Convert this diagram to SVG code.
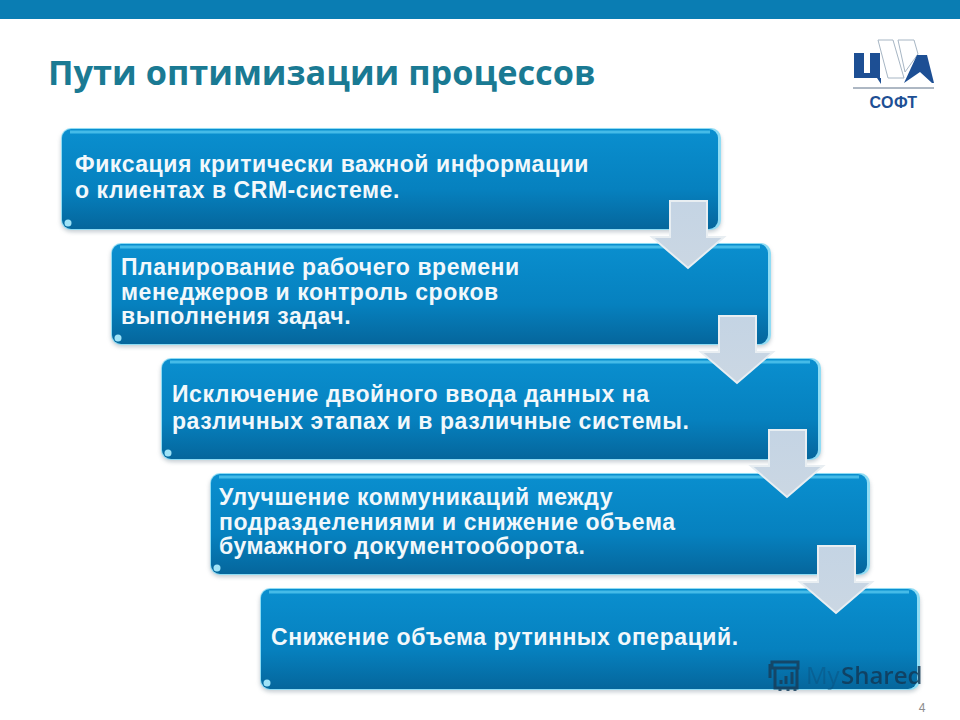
<svg xmlns="http://www.w3.org/2000/svg" width="960" height="720" viewBox="0 0 960 720">
<defs>
<linearGradient id="box" x1="0" y1="0" x2="0" y2="1">
<stop offset="0" stop-color="#0a8fcf"/><stop offset="0.6" stop-color="#0681bf"/><stop offset="1" stop-color="#05669c"/>
</linearGradient>
<linearGradient id="arr" x1="0" y1="0" x2="0" y2="1">
<stop offset="0" stop-color="#c4d4e4"/><stop offset="1" stop-color="#cbd7e3"/>
</linearGradient>
<filter id="sh" x="-5%" y="-10%" width="110%" height="125%"><feGaussianBlur stdDeviation="2"/></filter>
<symbol id="arrow" overflow="visible">
<path class="wing" d="M-36 36H-18V0H19V36H36L0 67Z"/>
</symbol>
<symbol id="card" overflow="visible">
<rect x="-1" y="2" width="660" height="101" rx="10" fill="#8a9aa5" opacity=".5" filter="url(#sh)"/>
<rect x="-1" y="-1" width="660" height="102" rx="10" fill="#8fdcf4"/>
<rect x="0" y="0" width="656" height="100" rx="9" fill="url(#box)"/>
<path d="M8 3H648" stroke="#45bbe8" stroke-width="3" fill="none"/>
<circle cx="6" cy="94" r="3.5" fill="#9fe3f7"/>
</symbol>
</defs>
<style>
text{font-family:"Liberation Sans",Arial,sans-serif}
.t{font-size:23px;letter-spacing:.55px;font-weight:700;fill:#f2f8fb}
.wing{fill:url(#arr);stroke:#e8eef2;stroke-width:2;stroke-linejoin:miter}
</style>
<rect width="960" height="720" fill="#fff"/>
<rect width="960" height="19" fill="#0a7db3"/>
<text id="title" x="48" y="85" style="font-family:'Open Sans','Noto Sans',sans-serif" font-size="34.3" font-weight="700" fill="#1a7a93">Пути оптимизации процессов</text>
<g id="logo">
<path d="M854 53H864V73H870V53H880V78H881V84L877 78H854Z" fill="#1d4f94"/>
<path d="M878 40H893L904 78H888Z M898 40H914L918 54L905 72Z" fill="#fff" stroke="#a7b6c4" stroke-width="1"/>
<path d="M904 83 917 55H927L934 83H932L920 72Z" fill="#1d4f94"/>
<path d="M853 88H934" stroke="#5c7088" stroke-width="1"/>
<text x="893.5" y="108" text-anchor="middle" font-size="16" letter-spacing=".4" font-weight="700" fill="#1d4f94">СОФТ</text>
</g>
<g id="node1"><use href="#card" x="62" y="129"/>
<text class="t" x="75" y="172">Фиксация критически важной информации</text>
<text class="t" x="75" y="198">о клиентах в CRM-системе.</text></g>
<g id="node2"><use href="#card" x="112" y="244"/>
<text class="t" x="121" y="275">Планирование рабочего времени</text>
<text class="t" x="121" y="300">менеджеров и контроль сроков</text>
<text class="t" x="121" y="324">выполнения задач.</text></g>
<g id="node3"><use href="#card" x="162" y="359"/>
<text class="t" x="172" y="402">Исключение двойного ввода данных на</text>
<text class="t" x="172" y="429">различных этапах и в различные системы.</text></g>
<g id="node4"><use href="#card" x="211" y="474"/>
<text class="t" x="219" y="505">Улучшение коммуникаций между</text>
<text class="t" x="219" y="530">подразделениями и снижение объема</text>
<text class="t" x="219" y="554">бумажного документооборота.</text></g>
<g id="node5"><use href="#card" x="261" y="589"/>
<text class="t" x="271" y="645">Снижение объема рутинных операций.</text></g>
<g id="connectors">
<use href="#arrow" x="688" y="201"/>
<use href="#arrow" x="737" y="316"/>
<use href="#arrow" x="787" y="430"/>
<use href="#arrow" x="836" y="546"/>
</g>
<g id="watermark" opacity=".85">
<g fill="none" stroke="#173f5c" stroke-width="3">
<rect x="772" y="662" width="26" height="6"/>
<path d="M775 668V688H797V668M770 664V678M780 688V691M788 688V691M795 688V691"/>
<path d="M781 684V680M786 684V676M792 684V672"/>
</g>
<text x="806" y="684" font-size="24" style="font-family:'Open Sans',sans-serif" fill="#0e4a74" opacity=".45">My</text>
<text x="841" y="684" font-size="24" font-weight="600" style="font-family:'Open Sans',sans-serif" fill="#123a58">Shared</text>
</g>
<text id="page" x="922" y="712" text-anchor="middle" font-size="12" fill="#8c8c8c">4</text>
</svg>
